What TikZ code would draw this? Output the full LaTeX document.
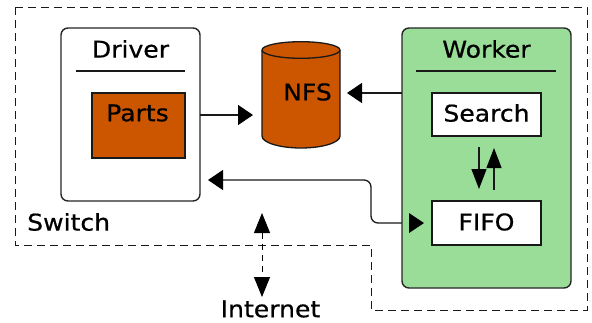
\documentclass[tikz,border=0pt]{standalone}
\usepackage{fontspec}
\setmainfont[FakeStretch=1.09,FakeBold=0.6]{DejaVu Sans}
\usetikzlibrary{arrows.meta,calc}
\definecolor{rust}{HTML}{CC5500}
\definecolor{leaf}{HTML}{99DD99}
\tikzset{
  x=1pt,y=-1pt,
  lbl/.style={inner sep=0pt,font=\fontsize{23}{25}\selectfont,text=black},
  panel/.style={draw=black!85,line width=1.4pt,rounded corners=7pt,inner sep=0pt,minimum width=#1},
  inbox/.style={draw=black!90,line width=1.3pt,inner sep=0pt},
  link/.style={line width=1.3pt,draw=black!90},
  bigtip/.style={-{Triangle[length=15pt,width=20pt,color=black]}},
  tallup/.style={-{Triangle[length=20pt,width=15pt,color=black]}},
  netarrow/.style={line width=1pt,dash pattern=on 6pt off 5pt,{Triangle[length=20pt,width=16pt,color=black]}-{Triangle[length=20pt,width=16pt,color=black]}},
  rulel/.style={line width=1.1pt,draw=black!90},
  frame/.style={line width=1pt,dash pattern=on 8pt off 5pt,draw=black!90},
  drum/.style={draw=black!90,line width=1.3pt},
}
\begin{document}
\begin{tikzpicture}
\useasboundingbox[fill=white] (0,0) rectangle (592,322);
% outer dashed switch border
\draw[frame] (15,7) -- (587,7) -- (587,310) -- (371,310) -- (371,245) -- (15,245) -- cycle;
% driver
\node[panel=139pt,minimum height=173pt,fill=white] (driver) at (130.5,114.5) {};
\node[lbl] (drivert) at (130.5,49) {Driver};
\coordinate (dl) at (76,71); \coordinate (dr) at (185,71);
\draw[rulel] (dl) -- (dr);
\node[inbox,fill=rust,minimum width=93pt,minimum height=65pt] (parts) at (138.5,125.5) {};
\node[lbl] (partst) at (137.5,113) {Parts};
% nfs drum
\filldraw[drum,fill=rust] (262,50) -- (262,136) .. controls (262,142.6) and (279.5,148) .. (301,148)
  .. controls (322.5,148) and (340,142.6) .. (340,136) -- (340,50)
  .. controls (340,45.4) and (322.5,41.7) .. (301,41.7) .. controls (279.5,41.7) and (262,45.4) .. (262,50) -- cycle;
\draw[drum] (262,50) .. controls (262,54.6) and (279.5,58.3) .. (301,58.3) .. controls (322.5,58.3) and (340,54.6) .. (340,50);
\node[lbl] (nfst) at (307.5,92) {NFS};
% connector behind worker
\coordinate (dtarget) at (208,180);
\coordinate (fifoin) at (409,223);
\coordinate (fifotip) at (424,223);
\draw[link,rounded corners=7pt,{Triangle[length=15pt,width=20pt,color=black]}-] (dtarget) -- (371,180) -- (371,223) -- (fifoin);
% worker
\node[panel=169pt,minimum height=260pt,fill=leaf] (worker) at (486.5,158) {};
\node[lbl] (workert) at (486.5,49) {Worker};
\coordinate (wl) at (416,71); \coordinate (wr) at (556,71);
\draw[rulel] (wl) -- (wr);
\node[inbox,fill=white,minimum width=109pt,minimum height=43pt] (search) at (486.5,114.5) {};
\node[lbl] (searcht) at (486.5,113) {Search};
\node[inbox,fill=white,minimum width=109pt,minimum height=44pt] (fifo) at (486.5,223) {};
\node[lbl] (fifot) at (486.5,222) {FIFO};
% arrows
\coordinate (dout) at (200,115); \coordinate (nfsin) at (253,115);
\draw[link,bigtip] (dout) -- (nfsin);
\coordinate (wout) at (402,93); \coordinate (nfsin2) at (347,93);
\draw[link,bigtip] (wout) -- (nfsin2);
\fill[black] ($(fifoin)+(0,-10)$) -- (fifotip) -- ($(fifoin)+(0,10)$) -- cycle;
\coordinate (a1) at (479,147); \coordinate (a2) at (479,189);
\coordinate (b1) at (494,190); \coordinate (b2) at (494,148);
\draw[link,tallup] (a1) -- (a2);
\draw[link,tallup] (b1) -- (b2);
% internet
\coordinate (i1) at (262,213); \coordinate (i2) at (262,297);
\draw[netarrow] (i1) -- (i2);
\node[lbl,anchor=west] (switch) at (27,222) {Switch};
\node[lbl] (internet) at (270.5,309) {Internet};
\end{tikzpicture}
\end{document}
